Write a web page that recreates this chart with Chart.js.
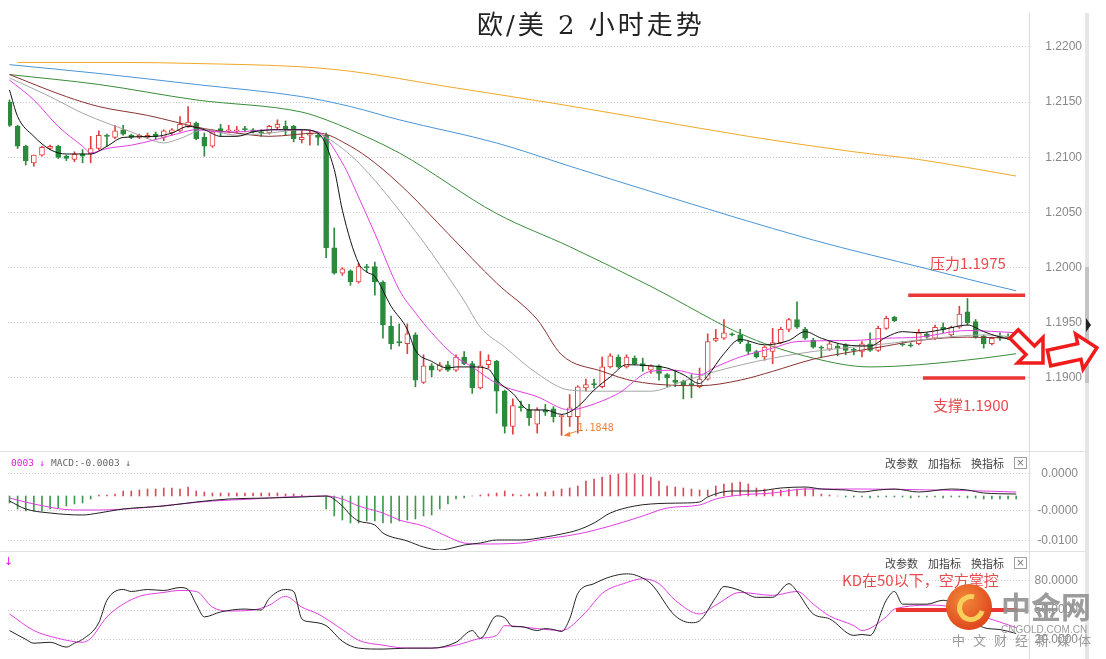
<!DOCTYPE html>
<html><head><meta charset="utf-8">
<script src="https://cdn.jsdelivr.net/npm/chart.js@4.4.0/dist/chart.umd.min.js"></script>
<style>
html,body{margin:0;padding:0;background:#fff;}
#wrap{position:relative;width:1106px;height:659px;overflow:hidden;background:#fff;font-family:"Noto Sans CJK SC","Liberation Sans",sans-serif;}
canvas{position:absolute;left:0;}
.t{position:absolute;white-space:nowrap;}
.hd{position:absolute;white-space:nowrap;font-size:11px;line-height:14px;color:#444;font-family:"Noto Sans CJK SC",sans-serif;}
.bx{position:absolute;width:11px;height:10px;border:1px solid #a0a0a0;color:#777;font:10px/10px "DejaVu Sans",sans-serif;text-align:center;}
.red{color:#ea4a4c;font-size:15px;line-height:18px;}
</style></head><body>
<div id="wrap">
  <div class="t" style="left:1029px;top:13px;width:1px;height:646px;background:#dcdcdc"></div>
  <div class="t" style="left:0;top:451px;width:1085px;height:1px;background:#e0e0e0"></div>
  <div class="t" style="left:0;top:551px;width:1085px;height:1px;background:#e0e0e0"></div>
  <div class="t" style="left:1085px;top:13px;width:4px;height:646px;background:#e6e6e6"></div>
  <div class="t" style="left:1085px;top:267px;width:4px;height:116px;background:#c4c4c4"></div>
  <div class="t" style="left:1086px;top:318px;width:0;height:0;border-left:5px solid #222;border-top:7px solid transparent;border-bottom:7px solid transparent"></div>

  <canvas id="cMain" width="1106" height="451" style="top:0"></canvas>
  <canvas id="cMacd" width="1106" height="100" style="top:451px"></canvas>
  <canvas id="cKd" width="1106" height="108" style="top:551px"></canvas>

  <div class="t" style="left:477px;top:9px;font-size:26px;line-height:32px;letter-spacing:3px;color:#222;font-family:'DejaVu Serif','Noto Sans CJK SC',serif">欧/美 2 小时走势</div>

  <div class="t red" style="left:930px;top:254px">压力1.1975</div>
  <div class="t red" style="left:933px;top:396px">支撑1.1900</div>

  <div class="t" style="left:11px;top:456px;font:9.5px/14px 'DejaVu Sans Mono',monospace;"><span style="color:#e020e0">0003 ↓</span> <span style="color:#666">MACD:-0.0003 ↓</span></div>
  <div class="hd" style="left:885px;top:456px">改参数</div>
  <div class="hd" style="left:928px;top:456px">加指标</div>
  <div class="hd" style="left:971px;top:456px">换指标</div>
  <div class="bx" style="left:1014px;top:457px">×</div>

  <div class="t" style="left:4px;top:555px;font:11px/14px 'DejaVu Sans',sans-serif;color:#e020e0">↓</div>
  <div class="hd" style="left:885px;top:556px">改参数</div>
  <div class="hd" style="left:928px;top:556px">加指标</div>
  <div class="hd" style="left:971px;top:556px">换指标</div>
  <div class="bx" style="left:1014px;top:557px">×</div>
  <div class="t red" style="left:842px;top:571px">KD在50以下，空方掌控</div>

  <div class="t" style="left:946px;top:584px;width:46px;height:46px;border-radius:50%;background:radial-gradient(circle at 40% 35%,#f28a3a,#e04a1e 70%,#d63a18)"></div>
  <div class="t" style="left:957px;top:594px;width:18px;height:18px;border-radius:50%;border:5px solid #f8cf5a;border-right-color:transparent;transform:rotate(-30deg)"></div>
  <div class="t" style="left:1001px;top:590px;font-size:30px;line-height:30px;font-weight:bold;color:rgba(145,145,145,0.9)">中金网</div>
  <div class="t" style="left:1001px;top:624px;font:10px/12px 'Liberation Sans',sans-serif;color:#9a9a9a">CNGOLD.COM.CN</div>
  <div class="t" style="left:952px;top:632px;font-size:13px;line-height:16px;letter-spacing:8px;color:#9a9a9a">中文财经新媒体</div>
</div>
<script>
// ===== candle data (EUR/USD, 2h) =====
const opens = [1.2150,1.2128,1.2110,1.2095,1.2102,1.2108,1.2110,1.2101,1.2098,1.2103,
1.2103,1.2108,1.2120,1.2118,1.2125,1.2120,1.2118,1.2118,1.2121,1.2118,
1.2122,1.2124,1.2128,1.2131,1.2118,1.2110,1.2126,1.2124,1.2124,1.2126,
1.2125,1.2123,1.2122,1.2127,1.2128,1.2128,1.2116,1.2120,1.2120,1.2120,
1.2018,1.1995,1.1997,1.1987,1.2001,1.2001,1.1987,1.1947,1.1933,1.1931,
1.1939,1.1896,1.1911,1.1907,1.1912,1.1907,1.1919,1.1913,1.1891,1.1912,
1.1915,1.1888,1.1856,1.1874,1.1871,1.1858,1.1871,1.1872,1.1865,1.1865,
1.1865,1.1891,1.1895,1.1892,1.1910,1.1919,1.1910,1.1918,1.1913,1.1907,
1.1911,1.1903,1.1898,1.1897,1.1895,1.1892,1.1899,1.1934,1.1936,1.1940,
1.1939,1.1931,1.1924,1.1919,1.1924,1.1932,1.1944,1.1953,1.1944,1.1934,
1.1928,1.1926,1.1929,1.1930,1.1926,1.1924,1.1931,1.1925,1.1945,1.1955,
1.1931,1.1930,1.1931,1.1940,1.1936,1.1946,1.1939,1.1946,1.1960,1.1951,
1.1938,1.1931,1.1938,1.1938,1.1937];
const highs = [1.2152,1.2129,1.2111,1.2102,1.2110,1.2111,1.2111,1.2102,1.2105,1.2107,
1.2119,1.2124,1.2121,1.2129,1.2129,1.2121,1.2121,1.2122,1.2123,1.2125,
1.2126,1.2137,1.2146,1.2132,1.2122,1.2125,1.2130,1.2129,1.2128,1.2128,
1.2126,1.2125,1.2129,1.2134,1.2133,1.2129,1.2125,1.2125,1.2122,1.2122,
1.2036,1.2000,1.1998,1.2004,1.2003,1.2005,1.1988,1.1956,1.1949,1.1949,
1.1941,1.1921,1.1913,1.1914,1.1915,1.1921,1.1924,1.1915,1.1924,1.1921,
1.1916,1.1889,1.1881,1.1879,1.1876,1.1873,1.1876,1.1874,1.1867,1.1885,
1.1893,1.1899,1.1899,1.1919,1.1922,1.1921,1.1921,1.1920,1.1918,1.1912,
1.1912,1.1904,1.1907,1.1898,1.1903,1.1909,1.1940,1.1944,1.1953,1.1941,
1.1944,1.1933,1.1925,1.1929,1.1945,1.1946,1.1954,1.1969,1.1946,1.1936,
1.1929,1.1933,1.1931,1.1931,1.1927,1.1933,1.1941,1.1947,1.1956,1.1956,
1.1933,1.1932,1.1944,1.1941,1.1948,1.1950,1.1947,1.1965,1.1972,1.1953,
1.1939,1.1937,1.1941,1.1940,1.1938];
const lows = [1.2128,1.2108,1.2093,1.2092,1.2101,1.2107,1.2099,1.2097,1.2096,1.2095,
1.2095,1.2107,1.2110,1.2117,1.2120,1.2117,1.2117,1.2117,1.2116,1.2115,
1.2120,1.2123,1.2127,1.2116,1.2101,1.2109,1.2119,1.2122,1.2122,1.2123,
1.2122,1.2119,1.2121,1.2125,1.2120,1.2114,1.2113,1.2111,1.2111,1.2009,
1.1994,1.1993,1.1984,1.1986,1.1996,1.1975,1.1936,1.1926,1.1929,1.1922,
1.1892,1.1895,1.1901,1.1906,1.1906,1.1906,1.1912,1.1886,1.1890,1.1909,
1.1868,1.1850,1.1849,1.1870,1.1857,1.1850,1.1866,1.1860,1.1848,1.1856,
1.1850,1.1888,1.1891,1.1891,1.1909,1.1909,1.1909,1.1912,1.1906,1.1904,
1.1898,1.1892,1.1892,1.1881,1.1882,1.1891,1.1898,1.1933,1.1935,1.1938,
1.1931,1.1921,1.1918,1.1916,1.1913,1.1931,1.1942,1.1945,1.1935,1.1927,
1.1919,1.1925,1.1920,1.1921,1.1921,1.1919,1.1924,1.1924,1.1944,1.1951,
1.1929,1.1928,1.1930,1.1936,1.1935,1.1941,1.1937,1.1945,1.1948,1.1936,
1.1927,1.1930,1.1934,1.1935,1.1935];
const closes = [1.2129,1.2110,1.2097,1.2102,1.2109,1.2110,1.2100,1.2099,1.2103,1.2101,
1.2108,1.2120,1.2119,1.2124,1.2121,1.2118,1.2120,1.2120,1.2119,1.2124,
1.2125,1.2130,1.2132,1.2117,1.2110,1.2123,1.2123,1.2125,1.2125,1.2125,
1.2123,1.2122,1.2128,1.2130,1.2126,1.2117,1.2118,1.2122,1.2118,1.2018,
1.1995,1.1999,1.1987,1.2001,1.2000,1.1987,1.1948,1.1931,1.1932,1.1940,
1.1898,1.1911,1.1907,1.1912,1.1907,1.1919,1.1913,1.1891,1.1911,1.1916,
1.1888,1.1856,1.1875,1.1873,1.1864,1.1871,1.1869,1.1865,1.1866,1.1873,
1.1892,1.1894,1.1894,1.1910,1.1920,1.1910,1.1919,1.1913,1.1911,1.1911,
1.1904,1.1900,1.1896,1.1894,1.1894,1.1899,1.1933,1.1936,1.1941,1.1939,
1.1933,1.1924,1.1919,1.1928,1.1932,1.1944,1.1953,1.1946,1.1936,1.1928,
1.1927,1.1931,1.1927,1.1925,1.1925,1.1931,1.1925,1.1945,1.1954,1.1952,
1.1930,1.1929,1.1941,1.1937,1.1946,1.1944,1.1946,1.1958,1.1950,1.1937,
1.1931,1.1936,1.1936,1.1937,1.1936];

// ===== moving averages: [candle index, price] =====
const ma5 = [[0,1.2161],[1,1.2137],[3,1.2119],[5,1.2107],[7,1.2103],[10,1.2103],[12,1.2110],[14,1.2118],[18,1.2119],[20,1.2122],[22,1.2128],[24,1.2125],[26,1.2119],[28,1.2119],[30,1.2123],[33,1.2125],[36,1.2125],[38,1.2122],[40,1.2089],[41,1.2052],[43,1.2004],[44,1.1996],[45,1.1992],[47,1.1965],[49,1.1944],[50,1.1925],[52,1.1915],[54,1.1909],[55,1.1910],[57,1.1910],[59,1.1908],[60,1.1898],[62,1.1886],[64,1.1871],[66,1.1871],[68,1.1867],[70,1.1874],[72,1.1889],[74,1.1901],[76,1.1912],[79,1.1911],[81,1.1909],[83,1.1903],[85,1.1895],[86,1.1902],[88,1.1922],[90,1.1935],[93,1.1930],[96,1.1934],[98,1.1942],[100,1.1936],[103,1.1930],[106,1.1929],[108,1.1937],[110,1.1942],[112,1.1941],[115,1.1944],[118,1.1948],[120,1.1942],[122,1.1937],[124,1.1934]];
const ma10 = [[0,1.2170],[3,1.2152],[6,1.2128],[9,1.2110],[10,1.2104],[12,1.2108],[15,1.2111],[18,1.2116],[21,1.2122],[23,1.2125],[26,1.2123],[28,1.2123],[32,1.2125],[35,1.2125],[38,1.2123],[41,1.2095],[43,1.2064],[45,1.2031],[48,1.1980],[50,1.1959],[52,1.1941],[55,1.1919],[57,1.1910],[60,1.1895],[65,1.1883],[69,1.1871],[71,1.1874],[75,1.1886],[79,1.1906],[82,1.1907],[85,1.1903],[87,1.1910],[90,1.1919],[94,1.1927],[97,1.1933],[104,1.1934],[108,1.1936],[112,1.1937],[118,1.1943],[124,1.1941]];
const ma20 = [[0,1.2172],[5,1.2155],[9,1.2140],[12,1.2131],[15,1.2123],[17,1.2117],[19,1.2113],[21,1.2117],[24,1.2125],[28,1.2120],[32,1.2122],[36,1.2125],[38,1.2122],[42,1.2102],[45,1.2079],[48,1.2052],[52,1.2013],[56,1.1970],[58,1.1946],[61,1.1928],[65,1.1904],[69,1.1889],[73,1.1888],[79,1.1888],[83,1.1897],[87,1.1906],[92,1.1915],[99,1.1924],[104,1.1928],[108,1.1931],[114,1.1936],[120,1.1939],[124,1.1937]];
const ma30 = [[0,1.2175],[7,1.2155],[11,1.2146],[17,1.2138],[24,1.2126],[28,1.2122],[32,1.2119],[38,1.2122],[42,1.2110],[45,1.2095],[49,1.2069],[54,1.2031],[60,1.1986],[65,1.1953],[68,1.1921],[73,1.1906],[77,1.1897],[85,1.1893],[90,1.1898],[94,1.1906],[99,1.1917],[104,1.1924],[108,1.1929],[112,1.1934],[118,1.1937],[124,1.1936]];
const ma60 = [[0,1.2175],[11,1.2166],[23,1.2152],[36,1.2141],[39,1.2134],[42,1.2125],[48,1.2104],[60,1.2049],[69,1.2019],[79,1.1983],[91,1.1937],[99,1.1918],[106,1.1910],[112,1.1912],[120,1.1918],[124,1.1922]];
const ma120 = [[0,1.2184],[11,1.2176],[23,1.2166],[36,1.2155],[42,1.2146],[48,1.2134],[60,1.2113],[69,1.2092],[79,1.2069],[99,1.2025],[113,1.1999],[120,1.1986],[124,1.1979]];
const ma250 = [[1,1.2186],[14,1.2186],[23,1.2185],[36,1.2182],[42,1.2178],[54,1.2164],[67,1.2149],[79,1.2134],[91,1.2119],[104,1.2105],[112,1.2098],[124,1.2083]];

// ===== MACD =====
const macdHist = [-0.0007,-0.0013,-0.0015,-0.0015,-0.0015,-0.0013,-0.0012,-0.0010,-0.0008,-0.0007,-0.0003,
0.0001,0.0001,0.0002,0.0005,0.0005,0.0006,0.0007,0.0007,0.0008,0.0008,0.0007,0.0009,0.0005,0.0004,0.0003,0.0003,0.0003,0.0003,0.0003,0.0003,0.0003,0.0003,0.0003,0.0002,0.0002,0.0001,0.0000,0.0000,
-0.0013,-0.0020,-0.0024,-0.0027,-0.0027,-0.0025,-0.0025,-0.0027,-0.0027,-0.0025,-0.0024,-0.0023,-0.0020,-0.0019,-0.0013,-0.0008,-0.0003,-0.0002,0.0000,0.0001,
0.0002,0.0003,0.0005,0.0002,0.0001,0.0002,0.0003,0.0004,0.0005,0.0007,0.0008,0.0010,0.0015,0.0017,0.0019,0.0021,0.0022,0.0023,0.0022,0.0021,0.0019,0.0015,0.0010,0.0009,0.0008,0.0007,0.0006,0.0006,0.0010,0.0012,0.0013,0.0014,0.0012,0.0008,0.0007,0.0006,0.0006,0.0007,0.0007,0.0008,0.0007,0.0002,
0.0001,0.0000,-0.0001,-0.0001,-0.0001,-0.0002,-0.0001,-0.0001,-0.0001,-0.0001,-0.0002,-0.0001,-0.0001,-0.0001,-0.0002,-0.0001,-0.0001,-0.0002,-0.0002,-0.0003,-0.0003,-0.0003,-0.0003,-0.0003];
const macdDif = [[0,-0.0005],[2,-0.0013],[5,-0.0017],[9,-0.0019],[11,-0.0017],[14,-0.0013],[19,-0.0010],[23,-0.0006],[27,-0.0003],[32,-0.0002],[36,-0.0001],[39,0.0000],[41,-0.0010],[42,-0.0019],[43,-0.0025],[45,-0.0029],[46,-0.0037],[49,-0.0045],[51,-0.0051],[53,-0.0054],[54,-0.0053],[56,-0.0049],[58,-0.0047],[60,-0.0044],[63,-0.0044],[66,-0.0041],[68,-0.0038],[70,-0.0034],[72,-0.0027],[74,-0.0017],[77,-0.0010],[79,-0.0008],[83,-0.0007],[85,-0.0006],[86,-0.0001],[89,0.0005],[92,0.0005],[95,0.0008],[98,0.0009],[100,0.0007],[103,0.0006],[105,0.0004],[107,0.0006],[109,0.0007],[112,0.0004],[116,0.0007],[118,0.0006],[120,0.0003],[124,0.0002]];
const macdDea = [[0,-0.0002],[3,-0.0008],[8,-0.0014],[11,-0.0014],[16,-0.0012],[21,-0.0008],[25,-0.0005],[30,-0.0003],[34,-0.0001],[39,0.0000],[41,-0.0003],[43,-0.0010],[46,-0.0017],[48,-0.0024],[51,-0.0030],[53,-0.0037],[56,-0.0047],[58,-0.0048],[63,-0.0047],[65,-0.0044],[70,-0.0038],[74,-0.0030],[78,-0.0020],[81,-0.0012],[85,-0.0009],[87,-0.0003],[90,0.0001],[94,0.0003],[98,0.0007],[101,0.0007],[105,0.0007],[114,0.0006],[120,0.0005],[124,0.0004]];
const macdTickVals = [0.00227,-0.0015,-0.0045];
const macdTickLabels = ['0.0000','-0.0000','-0.0100'];

// ===== KD =====
const kdK = [[0,29],[2,20],[3,16],[5,17],[7,12],[8,16],[9,20],[11,37],[12,60],[14,71],[15,69],[17,71],[19,70],[21,73],[22,71],[23,56],[24,43],[26,48],[29,51],[31,50],[32,62],[34,71],[35,69],[36,41],[37,38],[39,34],[41,18],[43,11],[46,10],[49,11],[52,11],[55,17],[57,29],[58,21],[60,44],[61,42],[62,33],[63,33],[65,29],[66,31],[67,30],[68,28],[69,41],[70,67],[72,77],[74,84],[76,87],[77,86],[79,77],[82,44],[84,37],[85,39],[87,63],[88,74],[90,70],[92,63],[94,63],[96,77],[97,69],[99,46],[101,41],[104,24],[105,25],[106,24],[108,60],[109,69],[110,56],[113,56],[115,60],[120,32],[122,30],[124,26]];
const kdD = [[0,46],[3,29],[6,21],[9,17],[10,21],[12,43],[14,56],[16,64],[19,68],[21,70],[23,69],[25,53],[27,49],[30,50],[32,55],[34,64],[36,53],[38,46],[41,30],[43,19],[46,14],[49,11],[52,11],[55,14],[58,21],[60,24],[61,34],[65,31],[68,29],[71,48],[73,67],[76,78],[78,82],[80,77],[82,60],[85,46],[87,55],[90,68],[94,65],[97,69],[99,56],[101,44],[104,34],[105,29],[108,43],[109,51],[114,55],[120,43],[124,32]];
const kdTickVals = [80,50,20];

// ===== annotation levels =====
const resistLevel = 1.1975;
const supportLevel = 1.1900;
const kdLevel = 50;
const priceTicks = [1.19,1.195,1.2,1.205,1.21,1.215,1.22];

// ===== build =====
const UP = '#e0403f', DOWN = '#2b8a3c';
const idx = opens.map((_, i) => i);
const isUp = idx.map(i => closes[i] > opens[i]);
const lowIdx = lows.indexOf(Math.min(...lows));
const X_MIN = -0.185, X_MAX = 125.7;

const pts = arr => arr.map(([x, y]) => ({x, y}));
const lineDs = (arr, color) => ({type:'line', data:pts(arr), borderColor:color, borderWidth:1, pointRadius:0, fill:false, cubicInterpolationMode:'monotone'});

// axis of width W; the rest of the 76px right margin goes to layout padding
function yAxis(min, max, vals, labelFn, W) {
  return {
    position:'right', min, max,
    afterBuildTicks: ax => { ax.ticks = vals.map(v => ({value:v})); },
    afterFit: ax => { ax.width = W; ax.paddingTop = 0; ax.paddingBottom = 0; ax.paddingLeft = 0; ax.paddingRight = 0; },
    ticks: {padding:0, crossAlign:'far', autoSkip:false, color:'#888', font:{family:'Liberation Sans', size:12}, callback: labelFn},
    grid: {color:'#cccccc', lineWidth:1, drawTicks:false},
    border: {display:false, dash:[1,2]}
  };
}
function options(yAx, W, top, bottom) {
  return {
    responsive:false, animation:false, devicePixelRatio:1, events:[],
    layout:{autoPadding:false, padding:{left:8, right:76 - W, top, bottom}},
    plugins:{legend:{display:false}, tooltip:{enabled:false}},
    scales:{ x:{type:'linear', min:X_MIN, max:X_MAX, display:false, offset:false}, y:yAx }
  };
}

function hollowArrow(ctx, tx, ty, ang, len, sh, hh, hl) {
  const c = Math.cos(ang), s = Math.sin(ang);
  const P = (u, v) => [tx + u*c - v*s, ty + u*s + v*c];
  const p = [P(0,-sh), P(len-hl,-sh), P(len-hl,-hh), P(len,0), P(len-hl,hh), P(len-hl,sh), P(0,sh)];
  ctx.beginPath();
  p.forEach(([a,b],k) => k ? ctx.lineTo(a,b) : ctx.moveTo(a,b));
  ctx.closePath();
  ctx.fillStyle = '#fff'; ctx.fill();
  ctx.strokeStyle = '#f01c1c'; ctx.lineWidth = 3.5; ctx.lineJoin = 'miter'; ctx.stroke();
}

const mainDeco = {
  id:'mainDeco',
  afterDatasetsDraw(chart) {
    const {ctx, scales:{x, y}} = chart;
    ctx.save();
    ctx.strokeStyle = '#ec3535'; ctx.lineWidth = 3.5;
    ctx.beginPath();
    ctx.moveTo(x.getPixelForValue(110.7), y.getPixelForValue(resistLevel));
    ctx.lineTo(x.getPixelForValue(125.1), y.getPixelForValue(resistLevel));
    ctx.moveTo(x.getPixelForValue(112.5), y.getPixelForValue(supportLevel));
    ctx.lineTo(x.getPixelForValue(125.1), y.getPixelForValue(supportLevel));
    ctx.stroke();
    // lowest low marker
    const px = x.getPixelForValue(lowIdx), py = y.getPixelForValue(lows[lowIdx]);
    ctx.strokeStyle = ctx.fillStyle = '#e8823a'; ctx.lineWidth = 1;
    ctx.beginPath(); ctx.moveTo(px + 15, py - 4); ctx.lineTo(px + 4, py - 0.5); ctx.stroke();
    ctx.beginPath(); ctx.moveTo(px + 2, py + 0.5); ctx.lineTo(px + 8, py - 3.5); ctx.lineTo(px + 9, py + 1.5); ctx.closePath(); ctx.fill();
    ctx.font = '10px "DejaVu Sans Mono"'; ctx.textBaseline = 'middle'; ctx.textAlign = 'left';
    ctx.fillText(lows[lowIdx].toFixed(4), px + 16, py - 7);
    // red hollow arrows
    hollowArrow(ctx, 1014, 334, Math.PI/4, 41, 6, 18, 18);
    hollowArrow(ctx, 1049, 358, -12*Math.PI/180, 49, 8, 18, 18);
    ctx.restore();
  }
};
const kdDeco = {
  id:'kdDeco',
  afterDatasetsDraw(chart) {
    const {ctx, scales:{x, y}} = chart;
    ctx.save();
    ctx.strokeStyle = '#ee3333'; ctx.lineWidth = 4;
    ctx.beginPath();
    ctx.moveTo(x.getPixelForValue(109.2), y.getPixelForValue(kdLevel));
    ctx.lineTo(x.getPixelForValue(124.2), y.getPixelForValue(kdLevel));
    ctx.stroke();
    ctx.restore();
  }
};

new Chart(document.getElementById('cMain'), {
  type:'bar',
  data:{datasets:[
    lineDs(ma5, '#111111'),
    lineDs(ma10, '#e03ee0'),
    lineDs(ma20, '#a6a6a6'),
    lineDs(ma30, '#8a3232'),
    lineDs(ma60, '#3a8c3a'),
    lineDs(ma120, '#4a95d6'),
    lineDs(ma250, '#f0a828'),
    {type:'bar', data: idx.map(i => ({x:i, y:[opens[i], closes[i]]})),
     backgroundColor: idx.map(i => isUp[i] ? '#ffffff' : DOWN),
     borderColor: idx.map(i => isUp[i] ? UP : DOWN),
     borderWidth:1, borderSkipped:false, barThickness:5, grouped:false},
    {type:'bar', data: idx.map(i => ({x:i, y:[lows[i], highs[i]]})),
     backgroundColor: idx.map(i => isUp[i] ? UP : DOWN),
     borderWidth:0, barThickness:1, grouped:false}
  ]},
  options: options(yAxis(1.18347, 1.22308, priceTicks, v => v.toFixed(4), 52), 52, 13, 1),
  plugins:[mainDeco]
});

new Chart(document.getElementById('cMacd'), {
  type:'bar',
  data:{datasets:[
    lineDs(macdDif, '#222222'),
    lineDs(macdDea, '#e03ee0'),
    {type:'bar', data: idx.map(i => ({x:i, y:macdHist[i]})),
     backgroundColor: macdHist.map(v => v >= 0 ? '#d44d5c' : '#3d9a4d'),
     borderWidth:0, barThickness:1, grouped:false}
  ]},
  options: options(yAxis(-0.0054, 0.0044, macdTickVals, (v, k) => macdTickLabels[k], 48), 48, 1, 1)
});

new Chart(document.getElementById('cKd'), {
  type:'line',
  data:{datasets:[
    lineDs(kdK, '#222222'),
    lineDs(kdD, '#e03ee0')
  ]},
  options: options(yAxis(9.07, 109.4, kdTickVals, v => v.toFixed(4), 48), 48, 1, 9),
  plugins:[kdDeco]
});
</script>
</body></html>
